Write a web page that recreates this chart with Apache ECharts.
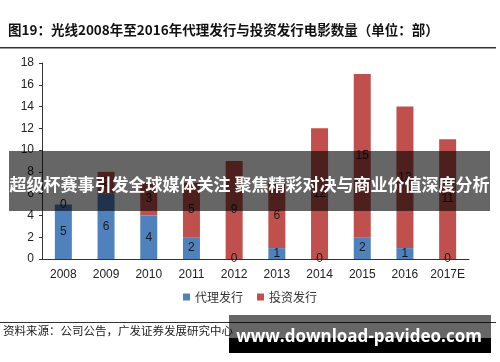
<!DOCTYPE html>
<html><head><meta charset="utf-8">
<script src="https://cdn.jsdelivr.net/npm/echarts@6/dist/echarts.min.js"></script>
<style>html,body{margin:0;padding:0;background:#fff}#c{width:500px;height:362px}</style>
</head><body><div id="c"></div>
<script>
const categories = ['2008','2009','2010','2011','2012','2013','2014','2015','2016','2017E'];
const agentRelease = [5,6,4,2,0,1,0,2,1,0];
const investRelease = [0,2,3,5,9,6,12,15,13,11];
const yTicks = [0,2,4,6,8,10,12,14,16,18];
const seriesNames = ['代理发行','投资发行'];
const titleText = '图19：光线2008年至2016年代理发行与投资发行电影数量（单位：部）';
const sourceText = '资料来源：公司公告，广发证券发展研究中心';
const bannerText = '超级杯赛事引发全球媒体关注 聚焦精彩对决与商业价值深度分析';
const watermarkText = 'www.download-pavideo.com';

const chart = echarts.init(document.getElementById('c'), null, {renderer:'canvas'});
const lbl = {show:true, position:'inside', color:'#1a1a1a', fontSize:12, fontFamily:'Arial, Liberation Sans'};
chart.setOption({
  animation:false,
  grid:{left:42, right:31, top:63, bottom:103},
  legend:{bottom:54, left:'center', itemWidth:7, itemHeight:7, itemGap:14, icon:'rect',
    textStyle:{fontSize:12, color:'#333', fontFamily:'Noto Sans CJK SC'}, data:seriesNames},
  xAxis:{type:'category', data:categories,
    axisLine:{lineStyle:{color:'#333', width:1}},
    axisTick:{show:true, inside:true, length:2, alignWithLabel:true, lineStyle:{color:'#333'}},
    axisLabel:{interval:0, color:'#222', fontSize:12, fontFamily:'Arial, Liberation Sans', margin:10}},
  yAxis:{type:'value', min:0, max:18, interval:2,
    axisLine:{show:true, lineStyle:{color:'#333'}},
    axisTick:{show:true, length:3, lineStyle:{color:'#333'}},
    splitLine:{show:false},
    axisLabel:{color:'#222', fontSize:12, fontFamily:'Arial, Liberation Sans', margin:8,
      formatter:v=>yTicks.includes(v)?String(v):''}},
  series:[
    {name:seriesNames[0], type:'bar', stack:'t', data:agentRelease, barWidth:17,
      itemStyle:{color:'#4F81BD'}, label:lbl},
    {name:seriesNames[1], type:'bar', stack:'t', data:investRelease, barWidth:17,
      itemStyle:{color:'#C0504D'}, label:lbl}
  ],
  graphic:[
    {type:'text', left:8, top:23, style:{text:titleText, fontSize:13.5, fontWeight:'bold', fill:'#111', fontFamily:'Noto Sans CJK SC'}},
    {type:'rect', shape:{x:0, y:47, width:496, height:1.5}, style:{fill:'#333'}},
    {type:'rect', shape:{x:0, y:322, width:496, height:1}, style:{fill:'#333'}},
    {type:'text', left:3, top:325, style:{text:sourceText, fontSize:11.5, fill:'#222', fontFamily:'Noto Sans CJK SC'}},
    {type:'rect', z:100, shape:{x:9, y:151, width:481, height:60}, style:{fill:'rgba(0,0,0,0.6)'}},
    {type:'text', z:101, x:249.5, y:185, style:{text:bannerText, fontSize:17, fontWeight:'bold', fill:'#fff', align:'center', verticalAlign:'middle', fontFamily:'Noto Sans CJK SC'}},
    {type:'rect', z:100, shape:{x:229, y:315, width:262, height:23}, style:{fill:'rgba(0,0,0,0.6)'}},
    {type:'rect', z:100, shape:{x:229, y:338, width:262, height:15}, style:{fill:'#000'}},
    {type:'text', z:101, x:359, y:337, style:{text:watermarkText, fontSize:17, fontWeight:'bold', fill:'#fff', align:'center', verticalAlign:'middle', fontFamily:'Open Sans'}}
  ]
});
</script></body></html>
